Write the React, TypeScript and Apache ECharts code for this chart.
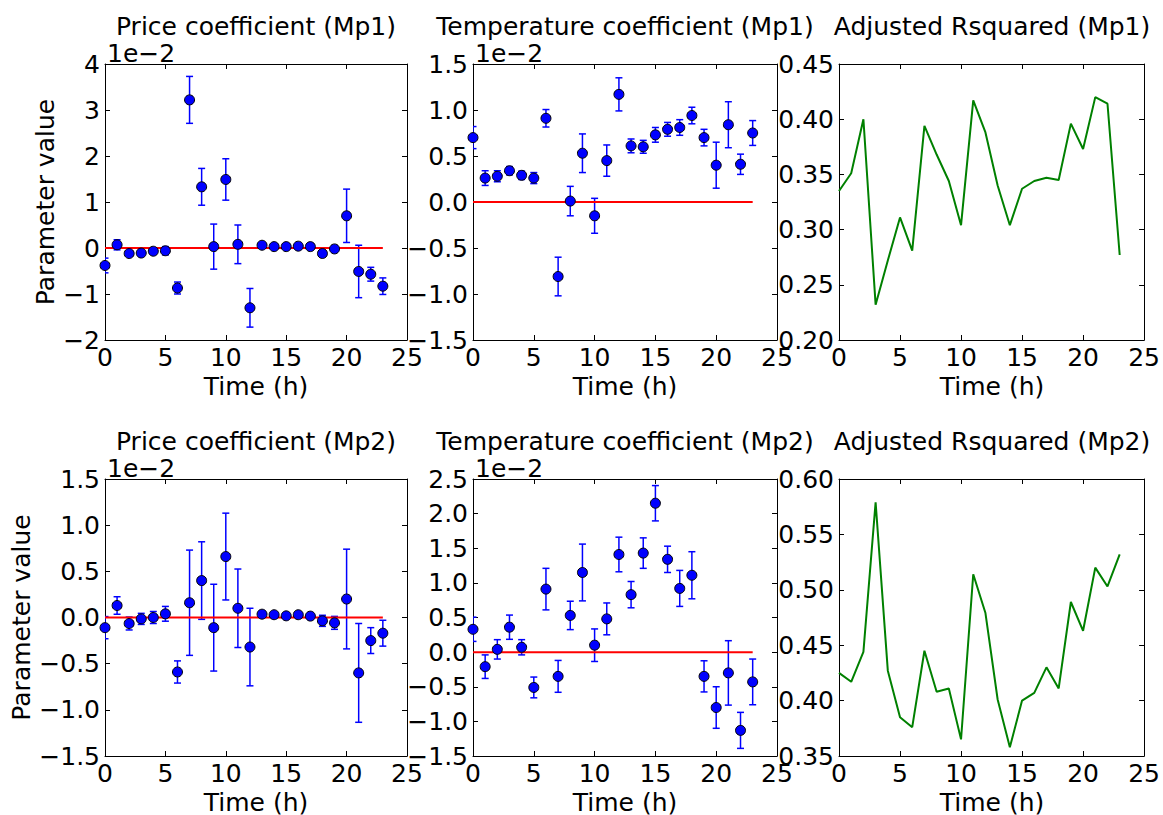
import React, { useEffect, useRef } from "react";
import * as echarts from "echarts";

// Hour of day for each estimate
const hours = [0, 1, 2, 3, 4, 5, 6, 7, 8, 9, 10, 11, 12, 13, 14, 15, 16, 17, 18, 19, 20, 21, 22, 23];

// Coefficient estimates (in units of 1e-2) and their standard errors
const priceMp1 = [-0.38, 0.07, -0.12, -0.11, -0.07, -0.06, -0.87, 3.22, 1.33, 0.03, 1.49, 0.08, -1.3, 0.06, 0.03, 0.03, 0.04, 0.03, -0.12, -0.02, 0.7, -0.51, -0.57, -0.83];
const priceMp1Err = [0.16, 0.11, 0.05, 0.05, 0.05, 0.09, 0.13, 0.51, 0.4, 0.49, 0.45, 0.42, 0.42, 0.03, 0.03, 0.03, 0.03, 0.03, 0.04, 0.05, 0.58, 0.57, 0.15, 0.18];

const tempMp1 = [0.7, 0.26, 0.28, 0.34, 0.29, 0.26, 0.91, -0.81, 0.01, 0.53, -0.15, 0.45, 1.17, 0.61, 0.6, 0.73, 0.79, 0.81, 0.94, 0.7, 0.4, 0.84, 0.41, 0.75];
const tempMp1Err = [0.12, 0.08, 0.06, 0.045, 0.045, 0.06, 0.095, 0.21, 0.16, 0.21, 0.19, 0.17, 0.18, 0.075, 0.07, 0.08, 0.075, 0.085, 0.09, 0.09, 0.25, 0.25, 0.11, 0.135];

const r2Mp1 = [0.335, 0.351, 0.4, 0.232, 0.272, 0.311, 0.281, 0.394, 0.368, 0.344, 0.304, 0.417, 0.388, 0.34, 0.304, 0.337, 0.344, 0.347, 0.345, 0.396, 0.373, 0.42, 0.414, 0.277];

const priceMp2 = [-0.11, 0.13, -0.065, -0.015, 0.0, 0.04, -0.59, 0.16, 0.4, -0.11, 0.66, 0.1, -0.32, 0.036, 0.03, 0.018, 0.03, 0.015, -0.036, -0.058, 0.2, -0.6, -0.25, -0.17];
const priceMp2Err = [0.12, 0.095, 0.07, 0.06, 0.065, 0.08, 0.12, 0.57, 0.42, 0.47, 0.47, 0.425, 0.42, 0.02, 0.02, 0.02, 0.02, 0.02, 0.06, 0.07, 0.54, 0.535, 0.14, 0.14];

const tempMp2 = [0.33, -0.21, 0.04, 0.36, 0.07, -0.51, 0.91, -0.35, 0.53, 1.15, 0.1, 0.48, 1.41, 0.83, 1.43, 2.15, 1.34, 0.92, 1.11, -0.35, -0.8, -0.3, -1.13, -0.43];
const tempMp2Err = [0.175, 0.17, 0.14, 0.175, 0.11, 0.15, 0.3, 0.23, 0.205, 0.41, 0.235, 0.23, 0.25, 0.19, 0.22, 0.255, 0.19, 0.26, 0.34, 0.225, 0.3, 0.465, 0.26, 0.33];

const r2Mp2 = [0.425, 0.417, 0.444, 0.579, 0.427, 0.385, 0.376, 0.445, 0.408, 0.411, 0.365, 0.514, 0.479, 0.401, 0.358, 0.4, 0.407, 0.43, 0.411, 0.489, 0.463, 0.52, 0.503, 0.532];

const titles = [
  "Price coefficient (Mp1)",
  "Temperature coefficient (Mp1)",
  "Adjusted Rsquared (Mp1)",
  "Price coefficient (Mp2)",
  "Temperature coefficient (Mp2)",
  "Adjusted Rsquared (Mp2)",
];
const xLabel = "Time (h)";
const yLabel = "Parameter value";
const offsetLabel = "1e\u22122";

const FONT = "DejaVu Sans";
const FS = 25;

type Panel = {
  left: number;
  top: number;
  width: number;
  height: number;
  yMin: number;
  yMax: number;
  yStep: number;
  decimals: number;
};

const colLeft = [105, 473, 839];
const colWidth = [302, 304, 306];
const rowTop = [64, 479];
const rowHeight = [276, 277];

const yRanges = [
  [-2, 4, 1, 0],
  [-1.5, 1.5, 0.5, 1],
  [0.2, 0.45, 0.05, 2],
  [-1.5, 1.5, 0.5, 1],
  [-1.5, 2.5, 0.5, 1],
  [0.35, 0.6, 0.05, 2],
];

const panels: Panel[] = yRanges.map((r, i) => {
  const row = Math.floor(i / 3);
  const col = i % 3;
  return {
    left: colLeft[col],
    top: rowTop[row],
    width: colWidth[col],
    height: rowHeight[row],
    yMin: r[0],
    yMax: r[1],
    yStep: r[2],
    decimals: r[3],
  };
});

const fmt = (dec: number) => (v: number) => {
  const s = (Math.abs(v) < 1e-9 ? 0 : v).toFixed(dec);
  return s.replace("-", "\u2212");
};

function buildOption() {
  const grid: any[] = [];
  const xAxis: any[] = [];
  const yAxis: any[] = [];
  const series: any[] = [];
  const graphic: any[] = [];

  const tickStyle = { color: "#000", width: 1 };
  const labelStyle = { fontSize: FS, fontFamily: FONT, color: "#000" };
  const textFont = `${FS}px "${FONT}"`;

  panels.forEach((p, i) => {
    grid.push({ left: p.left, top: p.top, width: p.width, height: p.height, containLabel: false });
    const xBase = {
      gridIndex: i,
      type: "value",
      min: 0,
      max: 25,
      interval: 5,
      splitLine: { show: false },
      axisLine: { show: true, onZero: false, lineStyle: tickStyle },
      axisTick: { show: true, inside: true, length: 5, lineStyle: tickStyle },
    };
    xAxis.push({
      ...xBase,
      position: "bottom",
      axisLabel: { ...labelStyle, margin: 5, showMinLabel: true, showMaxLabel: true, hideOverlap: false },
    });
    xAxis.push({ ...xBase, position: "top", axisLabel: { show: false } });

    const yBase = {
      gridIndex: i,
      type: "value",
      min: p.yMin,
      max: p.yMax,
      interval: p.yStep,
      splitLine: { show: false },
      axisLine: { show: true, onZero: false, lineStyle: tickStyle },
      axisTick: { show: true, inside: true, length: 5, lineStyle: tickStyle },
    };
    yAxis.push({
      ...yBase,
      position: "left",
      axisLabel: { ...labelStyle, margin: 5, formatter: fmt(p.decimals), showMinLabel: true, showMaxLabel: true, hideOverlap: false },
    });
    yAxis.push({ ...yBase, position: "right", axisLabel: { show: false } });

    const cx = p.left + p.width / 2;
    graphic.push({
      type: "text",
      x: cx,
      y: p.top - 38,
      style: { text: titles[i], font: textFont, fill: "#000", textAlign: "center", textVerticalAlign: "middle" },
    });
    graphic.push({
      type: "text",
      x: cx,
      y: p.top + p.height + 46,
      style: { text: xLabel, font: textFont, fill: "#000", textAlign: "center", textVerticalAlign: "middle" },
    });
  });

  // Scaled offset labels for the coefficient panels
  [0, 1, 3, 4].forEach((i) => {
    const p = panels[i];
    graphic.push({
      type: "text",
      x: p.left + 2,
      y: p.top - 11,
      style: { text: offsetLabel, font: textFont, fill: "#000", textAlign: "left", textVerticalAlign: "middle" },
    });
  });

  // Y-axis titles on the left column
  [
    [0, 45],
    [3, 21],
  ].forEach(([i, x]) => {
    const p = panels[i];
    graphic.push({
      type: "text",
      x,
      y: p.top + p.height / 2,
      rotation: Math.PI / 2,
      style: { text: yLabel, font: textFont, fill: "#000", textAlign: "center", textVerticalAlign: "middle" },
    });
  });

  const coefPanels: [number, number[], number[]][] = [
    [0, priceMp1, priceMp1Err],
    [1, tempMp1, tempMp1Err],
    [3, priceMp2, priceMp2Err],
    [4, tempMp2, tempMp2Err],
  ];

  coefPanels.forEach(([i, vals, errs]) => {
    const axis = { xAxisIndex: 2 * i, yAxisIndex: 2 * i };
    series.push({
      type: "custom",
      ...axis,
      clip: true,
      z: 2,
      data: hours.map((h, k) => [h, vals[k], errs[k]]),
      encode: { x: 0, y: 1 },
      renderItem: (_params: any, api: any) => {
        const x = api.value(0);
        const y = api.value(1);
        const e = api.value(2);
        const top = api.coord([x, y + e]);
        const bot = api.coord([x, y - e]);
        const cap = 3.5;
        const style = { stroke: "#0000ff", lineWidth: 1.5 };
        return {
          type: "group",
          children: [
            { type: "line", shape: { x1: top[0], y1: top[1], x2: bot[0], y2: bot[1] }, style },
            { type: "line", shape: { x1: top[0] - cap, y1: top[1], x2: top[0] + cap, y2: top[1] }, style },
            { type: "line", shape: { x1: bot[0] - cap, y1: bot[1], x2: bot[0] + cap, y2: bot[1] }, style },
          ],
        };
      },
    });
    series.push({
      type: "line",
      ...axis,
      z: 3,
      showSymbol: false,
      symbol: "none",
      data: [
        [hours[0], 0],
        [hours[hours.length - 1], 0],
      ],
      lineStyle: { color: "#ff0000", width: 2 },
    });
    series.push({
      type: "scatter",
      ...axis,
      z: 4,
      symbol: "circle",
      symbolSize: 10,
      data: hours.map((h, k) => [h, vals[k]]),
      itemStyle: { color: "#0000ff", borderColor: "#000", borderWidth: 1, opacity: 1 },
    });
  });

  const r2Panels: [number, number[]][] = [
    [2, r2Mp1],
    [5, r2Mp2],
  ];
  r2Panels.forEach(([i, vals]) => {
    series.push({
      type: "line",
      xAxisIndex: 2 * i,
      yAxisIndex: 2 * i,
      showSymbol: false,
      symbol: "none",
      data: hours.map((h, k) => [h, vals[k]]),
      lineStyle: { color: "#008000", width: 2 },
    });
  });

  return {
    animation: false,
    backgroundColor: "#ffffff",
    grid,
    xAxis,
    yAxis,
    series,
    graphic,
  };
}

export default function App() {
  const ref = useRef<HTMLDivElement>(null);
  useEffect(() => {
    if (!ref.current) return;
    const chart = echarts.init(ref.current, undefined, { renderer: "svg" });
    chart.setOption(buildOption() as any);
    return () => chart.dispose();
  }, []);
  return (
    <div
      ref={ref}
      style={{ position: "fixed", left: 0, top: 0, width: 1163, height: 815, background: "#fff" }}
    />
  );
}
